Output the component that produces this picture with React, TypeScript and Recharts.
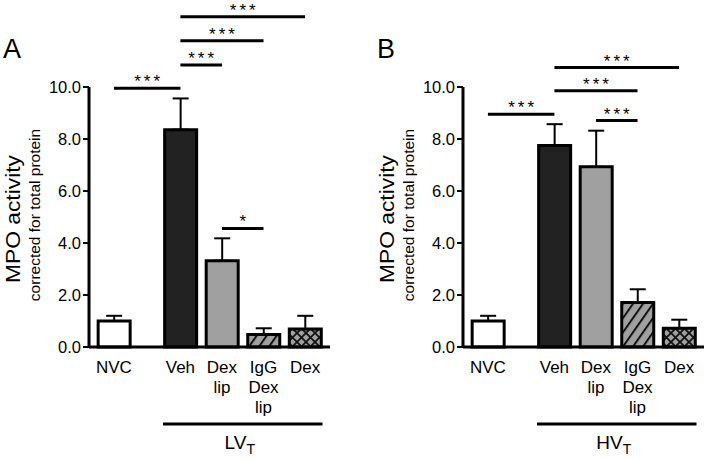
import React from 'react';
import { BarChart, Bar, XAxis, YAxis, ErrorBar, Cell, ReferenceLine } from 'recharts';

const groups = ['NVC', 'Veh', 'Dex\nlip', 'IgG\nDex\nlip', 'Dex'];
const yTicks = [0, 2, 4, 6, 8, 10];

// panel A (LV_T)
const lvMean = [1.0, 8.36, 3.32, 0.48, 0.69];
const lvSem = [0.2, 1.2, 0.86, 0.24, 0.51];
const lvSigFrom = [0, 1, 1, 1, 2];
const lvSigTo = [1, 2, 3, 4, 3];
const lvSigY = [9.95, 10.85, 11.78, 12.7, 4.56];
const lvSigText = ['***', '***', '***', '***', '*'];

// panel B (HV_T)
const hvMean = [1.0, 7.75, 6.93, 1.71, 0.72];
const hvSem = [0.2, 0.82, 1.39, 0.51, 0.33];
const hvSigFrom = [0, 1, 2, 1];
const hvSigTo = [1, 3, 3, 4];
const hvSigY = [8.95, 9.86, 8.71, 10.75];
const hvSigText = ['***', '***', '***', '***'];

const FONT = '"Liberation Sans", Arial, Helvetica, sans-serif';
const GAP = 0.6; // extra space between control and treated groups
const xOf = (i: number) => (i === 0 ? 0 : i + GAP);
const HALF_BAR = 0.42;

const StarLabel = (props: any) => {
  const { viewBox, value } = props;
  if (!viewBox) return null;
  const x1 = viewBox.x1 ?? viewBox.x;
  const x2 = viewBox.x2 ?? viewBox.x + viewBox.width;
  const y = viewBox.y1 ?? viewBox.y;
  return (
    <text x={(x1 + x2) / 2 + 1.5} y={y - 1} textAnchor="middle" fontSize={17} letterSpacing={3} fontFamily={FONT} fill="#000">
      {value}
    </text>
  );
};

const GroupLabel = (props: any) => {
  const { viewBox, name } = props;
  if (!viewBox) return null;
  const x1 = viewBox.x1 ?? viewBox.x;
  const x2 = viewBox.x2 ?? viewBox.x + viewBox.width;
  const y = viewBox.y1 ?? viewBox.y;
  return (
    <text x={(x1 + x2) / 2 - 3} y={y + 25} textAnchor="middle" fontSize={19} fontFamily={FONT} fill="#000">
      {name}
      <tspan fontSize={14} dy={5}>T</tspan>
    </text>
  );
};

const YLabel = ({ letter }: { letter: string }) => (
  <g fontFamily={FONT} fill="#000">
    <text x={3} y={58} fontSize={27}>{letter}</text>
    <text transform="translate(20,219) rotate(-90)" textAnchor="middle" fontSize={21} textLength={128} lengthAdjust="spacingAndGlyphs">
      MPO activity
    </text>
    <text transform="translate(40,215) rotate(-90)" textAnchor="middle" fontSize={15.5}>
      corrected for total protein
    </text>
  </g>
);

function Panel(props: {
  id: string; letter: string; group: string; means: number[]; sems: number[];
  sigFrom: number[]; sigTo: number[]; sigY: number[]; sigText: string[];
}) {
  const { id, letter, group, means, sems, sigFrom, sigTo, sigY, sigText } = props;
  const data = groups.map((g, i) => ({ x: xOf(i), label: g, mean: means[i], err: [0, sems[i]] }));
  const fills = ['#ffffff', '#222222', '#a0a0a0', `url(#hatch-${id})`, `url(#cross-${id})`];

  const XTick = (p: any) => {
    const d = data.find((r) => Math.abs(r.x - p.payload.value) < 1e-6);
    if (!d) return null;
    return (
      <text x={p.x} y={p.y + 26} textAnchor="middle" fontSize={17} fontFamily={FONT} fill="#000">
        {d.label.split('\n').map((line, k) => (
          <tspan key={k} x={p.x} dy={k === 0 ? 0 : 20}>{line}</tspan>
        ))}
      </text>
    );
  };

  return (
    <BarChart width={335} height={459} data={data} margin={{ top: 87, right: 5, bottom: 0, left: 0 }}>
      <defs>
        <pattern id={`hatch-${id}`} patternUnits="userSpaceOnUse" width={8.2} height={8.2} patternTransform="rotate(35)">
          <rect width={8.2} height={8.2} fill="#a0a0a0" />
          <line x1={1} y1={0} x2={1} y2={8.2} stroke="#111" strokeWidth={2} />
        </pattern>
        <pattern id={`cross-${id}`} patternUnits="userSpaceOnUse" width={9} height={9}>
          <rect width={9} height={9} fill="#a0a0a0" />
          <path d="M0,0 L9,9 M9,0 L0,9" stroke="#111" strokeWidth={1.8} />
        </pattern>
      </defs>
      <XAxis
        type="number"
        dataKey="x"
        domain={[-0.6, 5.2]}
        ticks={data.map((d) => d.x)}
        interval={0}
        tickLine={false}
        tickSize={0}
        tickMargin={0}
        height={112}
        axisLine={{ stroke: '#000', strokeWidth: 3 }}
        tick={<XTick />}
        allowDataOverflow
      />
      <YAxis
        domain={[0, 10]}
        ticks={yTicks}
        width={89}
        tickFormatter={(v: number) => v.toFixed(1)}
        tickSize={6}
        tickMargin={2}
        tickLine={{ stroke: '#000', strokeWidth: 2 }}
        axisLine={{ stroke: '#000', strokeWidth: 3 }}
        tick={{ fill: '#000', fontSize: 16.5, fontFamily: FONT }}
        label={<YLabel letter={letter} />}
      />
      <Bar dataKey="mean" barSize={32} stroke="#000" strokeWidth={3} isAnimationActive={false}>
        {data.map((d, i) => (
          <Cell key={i} fill={fills[i]} />
        ))}
        <ErrorBar dataKey="err" width={8} stroke="#000" strokeWidth={2} isAnimationActive={false} />
      </Bar>
      {sigFrom.map((f, i) => (
        <ReferenceLine
          key={`sig${i}`}
          segment={[{ x: xOf(f), y: sigY[i] }, { x: xOf(sigTo[i]), y: sigY[i] }]}
          stroke="#000"
          strokeWidth={3}
          ifOverflow="visible"
          label={<StarLabel value={sigText[i]} />}
        />
      ))}
      <ReferenceLine
        segment={[{ x: xOf(1) - HALF_BAR, y: -2.96 }, { x: xOf(4) + HALF_BAR, y: -2.96 }]}
        stroke="#000"
        strokeWidth={3}
        ifOverflow="visible"
        label={<GroupLabel name={group} />}
      />
    </BarChart>
  );
}

export default function App() {
  return (
    <div style={{ position: 'absolute', left: 0, top: 0, width: 709, height: 459, background: '#fff' }}>
      <div style={{ position: 'absolute', left: 0, top: 0 }}>
        <Panel id="a" letter="A" group="LV" means={lvMean} sems={lvSem}
          sigFrom={lvSigFrom} sigTo={lvSigTo} sigY={lvSigY} sigText={lvSigText} />
      </div>
      <div style={{ position: 'absolute', left: 374, top: 0 }}>
        <Panel id="b" letter="B" group="HV" means={hvMean} sems={hvSem}
          sigFrom={hvSigFrom} sigTo={hvSigTo} sigY={hvSigY} sigText={hvSigText} />
      </div>
    </div>
  );
}
